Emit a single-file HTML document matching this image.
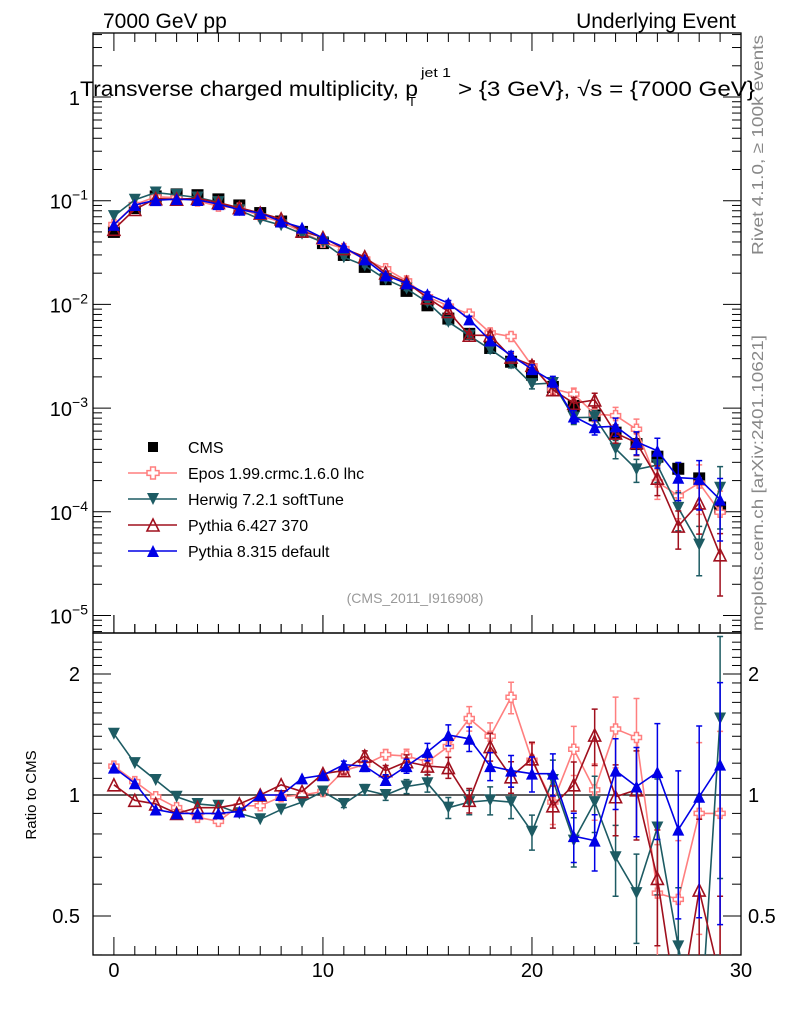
<!DOCTYPE html>
<html><head><meta charset="utf-8"><style>
html,body{margin:0;background:#fff;overflow:hidden;width:786px;height:1024px}
svg{display:block;font-family:"Liberation Sans",sans-serif}
</style></head><body>
<svg id="c" width="786" height="1024" viewBox="0 0 786 1024" xmlns="http://www.w3.org/2000/svg">
<text x="103" y="28" font-size="21">7000 GeV pp</text>
<text x="736" y="28" font-size="21" text-anchor="end">Underlying Event</text>
<text x="80" y="96" font-size="21" textLength="338" lengthAdjust="spacingAndGlyphs">Transverse charged multiplicity, p</text>
<text x="421" y="77" font-size="13" textLength="30" lengthAdjust="spacingAndGlyphs">jet 1</text>
<text x="408" y="106" font-size="13">T</text>
<text x="458" y="96" font-size="21" textLength="297" lengthAdjust="spacingAndGlyphs">&gt; {3 GeV}, √s = {7000 GeV}</text>
<text transform="translate(763,255) rotate(-90)" font-size="16" fill="#888" textLength="220" lengthAdjust="spacingAndGlyphs">Rivet 4.1.0, ≥ 100k events</text>
<text transform="translate(763,631) rotate(-90)" font-size="16" fill="#888" textLength="296" lengthAdjust="spacingAndGlyphs">mcplots.cern.ch [arXiv:2401.10621]</text>
<text x="415" y="603" font-size="14" fill="#999" text-anchor="middle">(CMS_2011_I916908)</text>
<text transform="translate(36,795) rotate(-90)" font-size="15" text-anchor="middle">Ratio to CMS</text>
<g id="axes"></g>
<g id="marks"></g>
<g id="legend"></g>
</svg>
<script>
const bins=[0,1,2,3,4,5,6,7,8,9,10,11,12,13,14,15,16,17,18,19,20,21,22,23,24,25,26,27,28,29];
const cmsValues=[0.05,0.085,0.11,0.115,0.113,0.103,0.09,0.076,0.063,0.05,0.039,0.030,0.023,0.0175,0.0135,0.0098,0.0073,0.0052,0.0038,0.0028,0.0021,0.0016,0.00105,0.00085,0.00058,0.00045,0.00034,0.00026,0.00021,0.00011];
const eposRatio=[1.18,1.08,0.99,0.93,0.88,0.86,0.94,0.94,0.99,1.0,1.02,1.15,1.19,1.26,1.25,1.21,1.32,1.55,1.40,1.75,1.22,0.96,1.30,1.03,1.46,1.39,0.57,0.55,0.90,0.90];
const herwigRatio=[1.42,1.20,1.09,0.99,0.95,0.94,0.90,0.87,0.92,0.96,1.02,0.95,1.03,1.0,1.05,1.07,0.93,0.96,0.97,0.96,0.81,1.09,0.77,0.96,0.70,0.57,0.83,0.42,0.23,1.55];
const py6Ratio=[1.06,0.97,0.95,0.90,0.93,0.93,0.95,1.0,1.06,1.02,1.13,1.15,1.25,1.15,1.21,1.18,1.17,0.97,1.32,1.11,1.23,0.94,1.06,1.41,0.99,1.03,0.62,0.28,0.58,0.35];
const py8Ratio=[1.17,1.07,0.92,0.90,0.90,0.90,0.91,1.0,1.0,1.10,1.12,1.19,1.18,1.09,1.18,1.28,1.41,1.38,1.18,1.15,1.13,1.13,0.79,0.77,1.15,1.05,1.14,0.82,0.99,1.19];
const mcRelErr=[0.01,0.01,0.01,0.01,0.01,0.01,0.01,0.01,0.01,0.01,0.015,0.02,0.03,0.03,0.04,0.05,0.06,0.07,0.08,0.09,0.1,0.12,0.14,0.16,0.2,0.25,0.32,0.4,0.5,0.6];
const xTicks=[0,10,20,30];
const mainTicks=[0,-1,-2,-3,-4,-5];
const ratioTicks=[2,1,0.5];

const NS="http://www.w3.org/2000/svg";
const L=93,R=741,MT=33,MB=633,RT=633,RB=955;
const xs=v=>L+(v+1)*(R-L)/31;
const ym=v=>97-Math.log10(v)*103.7;
const yr=v=>795-Math.log2(v)*121;
function el(tag,attrs,parent){const e=document.createElementNS(NS,tag);for(const k in attrs)e.setAttribute(k,attrs[k]);parent.appendChild(e);return e;}
const axes=document.getElementById('axes'),marks=document.getElementById('marks'),leg=document.getElementById('legend');

let f1=el('rect',{x:L,y:MT,width:R-L,height:MB-MT,fill:'none',stroke:'#000','stroke-width':1.3},axes);


let f2=el('rect',{x:L,y:RT,width:R-L,height:RB-RT,fill:'none',stroke:'#000','stroke-width':1.3},axes);


for(let v=-1;v<=30;v++){const x=xs(v);const big=v%10===0;const len=big?18:9;
 [[MT,1],[RT,-1],[RB,-1],[MB,-1]].forEach(([y0,d])=>{let t=el('line',{x1:x,x2:x,y1:y0,y2:y0+d*len,stroke:'#000','stroke-width':1},axes);});
}
xTicks.forEach(v=>{let t=el('text',{x:xs(v),y:977,'font-size':20,'text-anchor':'middle'},axes);t.textContent=v;});
for(let d=-6;d<=0;d++){for(let m=1;m<10;m++){const v=Math.pow(10,d)*m;const y=ym(v);if(y<MT||y>MB)continue;const len=m===1?18:9;
 [[L,1],[R,-1]].forEach(([x0,s])=>{let t=el('line',{x1:x0,x2:x0+s*len,y1:y,y2:y,stroke:'#000','stroke-width':1},axes);});}}
mainTicks.forEach(p=>{const y=ym(Math.pow(10,p));let t=el('text',{x:p===0?80:88,y:y+8,'font-size':20,'text-anchor':'end'},axes);
 if(p===0)t.textContent='1';else{t.textContent='10';let s=el('tspan',{dy:-9,'font-size':14},t);s.textContent=String(p).replace('-','−');}
 });
for(let v=0.4;v<=2.5;v+=0.1){const y=yr(v);if(y<RT||y>RB)continue;const big=Math.abs(v-1)<1e-6||Math.abs(v-2)<1e-6||Math.abs(v-0.5)<1e-6;const len=big?18:9;
 [[L,1],[R,-1]].forEach(([x0,s])=>{let t=el('line',{x1:x0,x2:x0+s*len,y1:y,y2:y,stroke:'#000','stroke-width':1},axes);});}
ratioTicks.forEach(v=>{const y=yr(v)+7;
 let t=el('text',{x:80,y:y,'font-size':20,'text-anchor':'end'},axes);t.textContent=v;
 let t2=el('text',{x:748,y:y,'font-size':20},axes);t2.textContent=v;});
let one=el('line',{x1:L,x2:R,y1:yr(1),y2:yr(1),stroke:'#000','stroke-width':1.2},axes);



function marker(type,x,y,color,parent,size){size=size||6;let m;
 if(type==='sq')m=el('rect',{x:x-size,y:y-size,width:2*size,height:2*size,fill:'#000'},parent);
 else if(type==='plus'){const a=size*0.4,b=size;m=el('polygon',{points:[[x-a,y-b],[x+a,y-b],[x+a,y-a],[x+b,y-a],[x+b,y+a],[x+a,y+a],[x+a,y+b],[x-a,y+b],[x-a,y+a],[x-b,y+a],[x-b,y-a],[x-a,y-a]].map(p=>p.join(',')).join(' '),fill:'#fff',stroke:color,'stroke-width':1.5},parent);}
 else if(type==='down')m=el('polygon',{points:`${x-size},${y-size} ${x+size},${y-size} ${x},${y+size}`,fill:color},parent);
 else if(type==='up')m=el('polygon',{points:`${x-size},${y+size} ${x+size},${y+size} ${x},${y-size}`,fill:color},parent);
 else m=el('polygon',{points:`${x-size},${y+size} ${x+size},${y+size} ${x},${y-size}`,fill:'none',stroke:color,'stroke-width':1.6},parent);
 return m;}

const series=[
 {name:'epos',ratio:eposRatio,color:'#ff7f7f',m:'plus'},
 {name:'herwig',ratio:herwigRatio,color:'#1d5b63',m:'down'},
 {name:'pythia6',ratio:py6Ratio,color:'#a0101e',m:'open'},
 {name:'pythia8',ratio:py8Ratio,color:'#0000e6',m:'up'}];

const clipM=el('clipPath',{id:'cm'},axes);el('rect',{x:L,y:MT,width:R-L,height:MB-MT},clipM);
const clipR=el('clipPath',{id:'cr'},axes);el('rect',{x:L,y:RT,width:R-L,height:RB-RT},clipR);

const gc=el('g',{'clip-path':'url(#cm)'},marks);

bins.forEach((b,i)=>{let m=marker('sq',xs(b),ym(cmsValues[i]),'#000',gc,6);});

series.forEach(s=>{
 const vals=bins.map((b,i)=>cmsValues[i]*s.ratio[i]);
 [['main',ym,'cm',vals],['ratio',yr,'cr',s.ratio]].forEach(([pn,yf,cl,arr])=>{
  const g=el('g',{'clip-path':`url(#${cl})`},marks);
  
  const pts=bins.map((b,i)=>xs(b)+','+yf(arr[i])).join(' ');
  let pl=el('polyline',{points:pts,fill:'none',stroke:s.color,'stroke-width':1.6},g);
  
  bins.forEach((b,i)=>{const e=mcRelErr[i];if(e<0.02)return;const x=xs(b);const y1=yf(arr[i]*(1+e)),y2=yf(arr[i]*Math.max(1-e,0.02));
   let eb=el('path',{d:`M${x},${y1}V${y2}M${x-3},${y1}H${x+3}M${x-3},${y2}H${x+3}`,stroke:s.color,'stroke-width':1.5,fill:'none'},g);
   });
  bins.forEach((b,i)=>{let m=marker(s.m,xs(b),yf(arr[i]),s.color,g,s.m==='plus'?5:6);});
 });
});

const rows=[['CMS',null,'sq'],['Epos 1.99.crmc.1.6.0 lhc','#ff7f7f','plus'],['Herwig 7.2.1 softTune','#1d5b63','down'],['Pythia 6.427 370','#a0101e','open'],['Pythia 8.315 default','#0000e6','up']];
rows.forEach((r,i)=>{const y=447+i*26;const g=el('g',{},leg);
 
 if(r[1])el('line',{x1:128,x2:177,y1:y,y2:y,stroke:r[1],'stroke-width':1.5},g);
 marker(r[2],153,y,r[1]||'#000',g,r[2]==='sq'?5:6);
 const t=el('text',{x:188,y:y+6,'font-size':16},g);t.textContent=r[0];});
</script>
</body></html>
